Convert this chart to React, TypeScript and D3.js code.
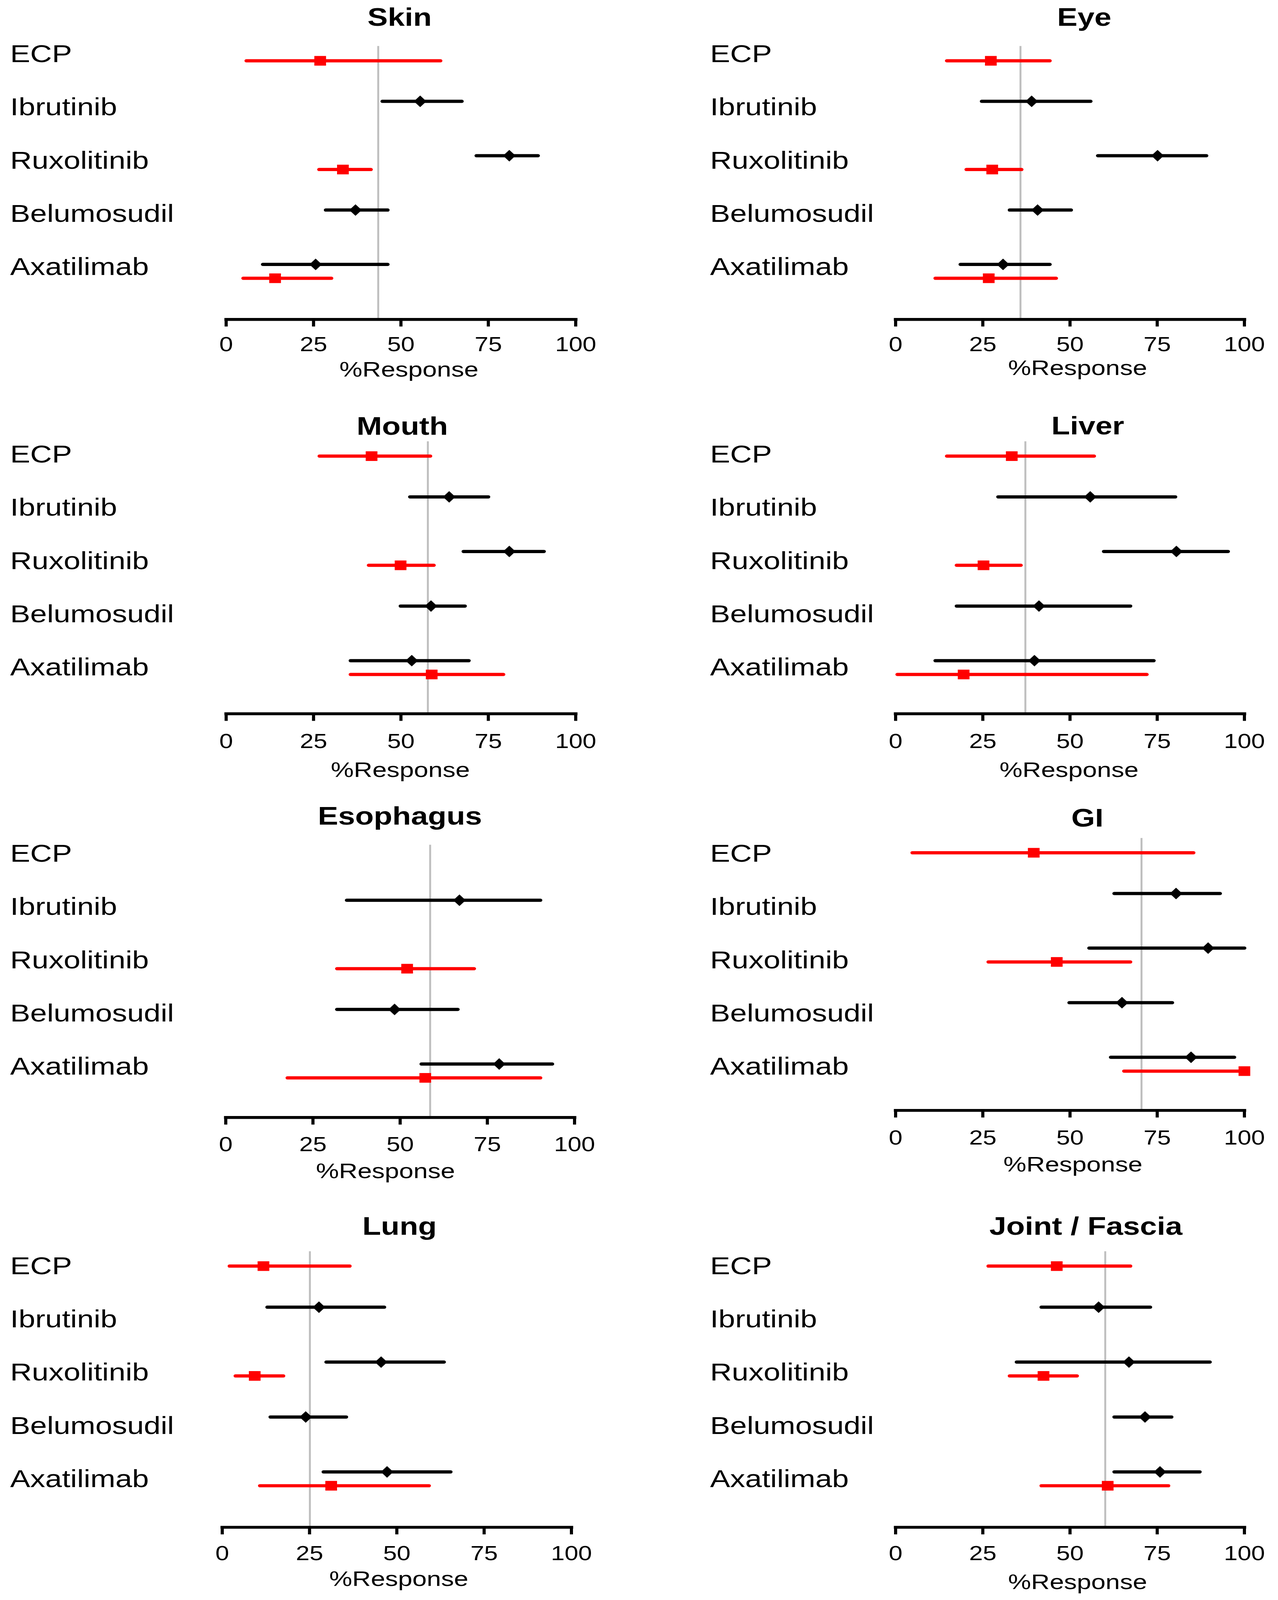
import React from "react";
import * as d3 from "d3";

// ---------- DATA ----------
const categories = ["ECP", "Ibrutinib", "Ruxolitinib", "Belumosudil", "Axatilimab"];
const panelTitles = ["Skin", "Eye", "Mouth", "Liver", "Esophagus", "GI", "Lung", "Joint / Fascia"];
const xTicks = [0, 25, 50, 75, 100];
const xAxisLabel = "%Response";

// vertical reference value per panel
const referenceValues = [43.5, 35.8, 57.7, 37.2, 58.6, 70.5, 25.1, 60.1];

// black series (diamond): point estimate, lower, upper per panel x category
const blackPoint: (number | null)[][] = [
  [null, 55.5, 81.0, 37.0, 25.6],
  [null, 39.0, 75.1, 40.7, 30.8],
  [null, 63.8, 81.0, 58.6, 53.1],
  [null, 55.8, 80.5, 41.1, 39.8],
  [null, 67.0, null, 48.4, 78.4],
  [null, 80.4, 89.6, 64.9, 84.7],
  [null, 27.7, 45.5, 23.9, 47.2],
  [null, 58.2, 66.9, 71.5, 75.8],
];
const blackLow: (number | null)[][] = [
  [null, 44.7, 71.6, 28.5, 10.5],
  [null, 24.7, 58.0, 32.7, 18.6],
  [null, 52.6, 67.9, 49.9, 35.6],
  [null, 29.4, 59.7, 17.5, 11.4],
  [null, 34.7, null, 31.9, 56.1],
  [null, 62.7, 55.5, 49.8, 61.7],
  [null, 12.9, 29.8, 13.8, 29.0],
  [null, 41.8, 34.7, 62.7, 62.7],
];
const blackHigh: (number | null)[][] = [
  [null, 67.4, 89.2, 46.2, 46.2],
  [null, 55.9, 89.1, 50.3, 44.2],
  [null, 75.0, 90.9, 68.3, 69.4],
  [null, 80.2, 95.3, 67.3, 74.0],
  [null, 90.2, null, 66.5, 93.6],
  [null, 93.0, 100, 79.3, 97.1],
  [null, 46.4, 63.5, 35.5, 65.4],
  [null, 73.0, 90.1, 79.1, 87.2],
];

// red series (square)
const redPoint: (number | null)[][] = [
  [26.9, null, 33.4, null, 14.0],
  [27.3, null, 27.7, null, 26.7],
  [41.6, null, 49.9, null, 58.8],
  [33.3, null, 25.2, null, 19.5],
  [null, null, 52.0, null, 57.2],
  [39.6, null, 46.2, null, 100],
  [11.8, null, 9.3, null, 31.2],
  [46.2, null, 42.4, null, 60.8],
];
const redLow: (number | null)[][] = [
  [5.8, null, 26.6, null, 4.9],
  [14.7, null, 20.3, null, 11.4],
  [26.7, null, 40.8, null, 35.6],
  [14.7, null, 17.5, null, 0.5],
  [null, null, 31.9, null, 17.7],
  [4.8, null, 26.6, null, 65.5],
  [2.1, null, 3.8, null, 10.8],
  [26.6, null, 32.7, null, 41.8],
];
const redHigh: (number | null)[][] = [
  [61.3, null, 41.4, null, 30.1],
  [44.2, null, 36.1, null, 46.0],
  [58.4, null, 59.4, null, 79.3],
  [56.9, null, 35.9, null, 72.0],
  [null, null, 71.2, null, 90.2],
  [85.4, null, 67.3, null, 100],
  [36.5, null, 17.5, null, 59.2],
  [67.3, null, 52.0, null, 78.2],
];

// ---------- LAYOUT (design space 3272 x 4974, fitted to the viewport) ----------
const W = 3272;
const H = 4974;
const FONT = "'Liberation Sans', Arial, Helvetica, sans-serif";
const RED = "#ff0000";
const BLACK = "#000000";
const REF = "#bfbfbf";
const RED_OFFSET = 43;

const layout = [
  { x0: 579, x1: 1474, slot0: 146, step: 169, axisY: 993, labelX: 26, labelY0: 193, titleX: 1023, titleY: 80, xlabX: 1047, tickY: 1092, xlabY: 1171 },
  { x0: 2293, x1: 3186, slot0: 146, step: 169, axisY: 993, labelX: 1818, labelY0: 193, titleX: 2776, titleY: 80, xlabX: 2759, tickY: 1092, xlabY: 1166 },
  { x0: 579, x1: 1474, slot0: 1375, step: 169.7, axisY: 2219, labelX: 26, labelY0: 1438, titleX: 1030, titleY: 1351, xlabX: 1025, tickY: 2326, xlabY: 2415 },
  { x0: 2293, x1: 3186, slot0: 1375, step: 169.7, axisY: 2219, labelX: 1818, labelY0: 1438, titleX: 2785, titleY: 1350, xlabX: 2737, tickY: 2326, xlabY: 2415 },
  { x0: 578, x1: 1471, slot0: 2629, step: 169.7, axisY: 3474, labelX: 26, labelY0: 2679, titleX: 1024, titleY: 2564, xlabX: 987, tickY: 3579, xlabY: 3662 },
  { x0: 2293, x1: 3186, slot0: 2608, step: 169.7, axisY: 3452, labelX: 1818, labelY0: 2679, titleX: 2784, titleY: 2569, xlabX: 2747, tickY: 3558, xlabY: 3642 },
  { x0: 569, x1: 1463, slot0: 3893, step: 170.7, axisY: 4748, labelX: 26, labelY0: 3961, titleX: 1023, titleY: 3838, xlabX: 1021, tickY: 4850, xlabY: 4930 },
  { x0: 2293, x1: 3186, slot0: 3893, step: 170.7, axisY: 4748, labelX: 1818, labelY0: 3961, titleX: 2780, titleY: 3838, xlabX: 2759, tickY: 4850, xlabY: 4940 },
];
const LABEL_STEP = 165.5;

const diamondPath = "M0,-18L16,0L0,18L-16,0Z";

function Panel({ idx }: { idx: number }) {
  const L = layout[idx];
  const x = d3.scaleLinear().domain([0, 100]).range([L.x0, L.x1]);
  const y = d3.scaleLinear().domain([0, 4]).range([L.slot0, L.slot0 + 4 * L.step]);
  const labelY = d3.scaleLinear().domain([0, 4]).range([L.labelY0, L.labelY0 + 4 * LABEL_STEP]);

  return (
    <g>
      <text x={L.titleX} y={L.titleY} textAnchor="middle" fontFamily={FONT} fontWeight="bold" fontSize={78} fill="#000">
        {panelTitles[idx]}
      </text>
      {categories.map((c, i) => (
        <text key={c} x={L.labelX} y={labelY(i)} fontFamily={FONT} fontSize={77} fill="#000">
          {c}
        </text>
      ))}
      {/* reference line */}
      <line x1={x(referenceValues[idx])} x2={x(referenceValues[idx])} y1={L.slot0 - 3} y2={L.axisY} stroke={REF} strokeWidth={5} />
      {/* axis */}
      <line x1={x(0)} x2={x(100)} y1={L.axisY} y2={L.axisY} stroke="#000" strokeWidth={9} strokeLinecap="square" />
      {xTicks.map((t) => (
        <g key={t}>
          <line x1={x(t)} x2={x(t)} y1={L.axisY} y2={L.axisY + 22} stroke="#000" strokeWidth={8} />
          <text x={x(t)} y={L.tickY} textAnchor="middle" fontFamily={FONT} fontSize={63} fill="#000">
            {t}
          </text>
        </g>
      ))}
      <text x={L.xlabX} y={L.xlabY} textAnchor="middle" fontFamily={FONT} fontSize={66} fill="#000">
        {xAxisLabel}
      </text>
      {/* black series */}
      {categories.map((c, i) => {
        const p = blackPoint[idx][i];
        const lo = blackLow[idx][i];
        const hi = blackHigh[idx][i];
        if (p == null || lo == null || hi == null) return null;
        const yy = y(i);
        return (
          <g key={"b" + c}>
            <line x1={x(lo)} x2={x(hi)} y1={yy} y2={yy} stroke={BLACK} strokeWidth={10} strokeLinecap="round" />
            <path d={diamondPath} transform={`translate(${x(p)},${yy})`} fill={BLACK} />
          </g>
        );
      })}
      {/* red series */}
      {categories.map((c, i) => {
        const p = redPoint[idx][i];
        const lo = redLow[idx][i];
        const hi = redHigh[idx][i];
        if (p == null || lo == null || hi == null) return null;
        const yy = y(i) + RED_OFFSET;
        return (
          <g key={"r" + c}>
            <line x1={x(lo)} x2={x(hi)} y1={yy} y2={yy} stroke={RED} strokeWidth={10} strokeLinecap="round" />
            <rect x={x(p) - 15} y={yy - 15} width={30} height={30} fill={RED} />
          </g>
        );
      })}
    </g>
  );
}

export default function App() {
  return (
    <svg
      viewBox={`0 0 ${W} ${H}`}
      preserveAspectRatio="none"
      style={{ position: "fixed", left: 0, top: 0, width: "100vw", height: "100vh", display: "block", background: "#fff" }}
    >
      <rect x={0} y={0} width={W} height={H} fill="#fff" />
      {panelTitles.map((t, i) => (
        <Panel key={t} idx={i} />
      ))}
    </svg>
  );
}
